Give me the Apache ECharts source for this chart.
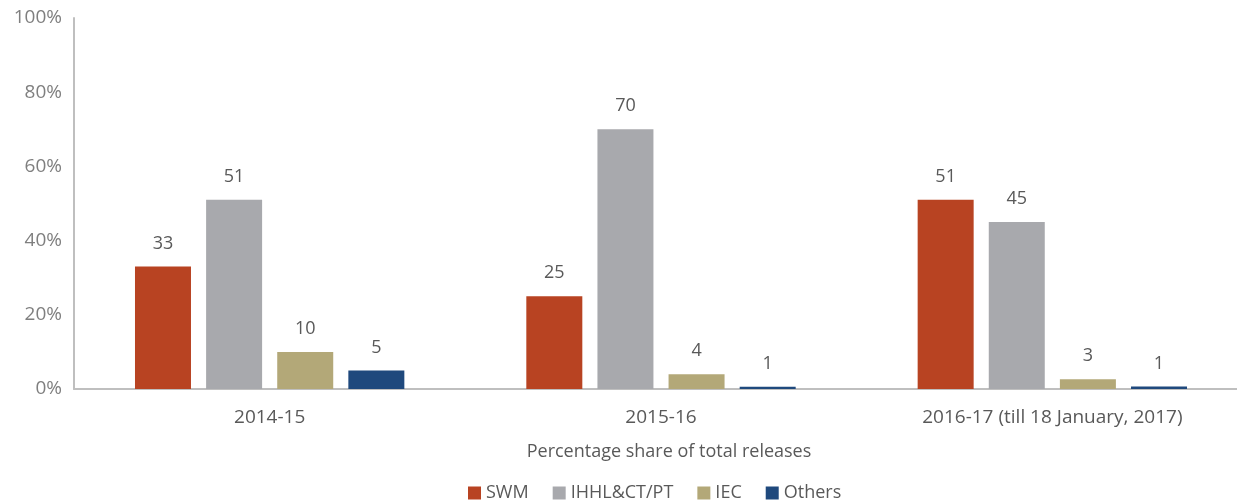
<!DOCTYPE html>
<html>
<head>
<meta charset="utf-8">
<script src="https://cdn.jsdelivr.net/npm/echarts@6/dist/echarts.min.js"></script>
<style>
  html, body { margin: 0; padding: 0; background: #fff; }
  #chart { width: 1237px; height: 501px; }
</style>
</head>
<body>
<div id="chart"></div>
<script>
  var categories = ['2014-15', '2015-16', '2016-17 (till 18 January, 2017)']
  var seriesNames = ['SWM', 'IHHL&CT/PT', 'IEC', 'Others']
  var swm = [33, 25, 51]
  var ihhl = [51, 70, 45]
  var iec = [10, 4, 2.6]
  var others = [5, 0.6, 0.7]
  var colors = ['#b84322', '#a8a9ad', '#b3a878', '#1f497d']

  var chart = echarts.init(document.getElementById('chart'))
  var font = '"Open Sans", sans-serif'

  function bar (name, data, color) {
    return {
      name: name,
      type: 'bar',
      data: data,
      barWidth: 56,
      barGap: '27%',
      itemStyle: { color: color },
      label: {
        show: true,
        position: 'top',
        distance: 14,
        color: '#595959',
        fontFamily: font,
        fontSize: 18,
        formatter: function (p) { return Math.round(p.value) }
      }
    }
  }

  chart.setOption({
    animation: false,
    color: colors,
    // plot runs a little past the right edge, like the original
    grid: { left: 74, width: 1174, top: 18, height: 371, outerBoundsMode: 'none', containLabel: false },
    legend: {
      top: 479,
      left: 463,
      itemWidth: 13,
      itemHeight: 13,
      itemGap: 24,
      icon: 'rect',
      textStyle: { color: '#595959', fontFamily: font, fontSize: 18 },
      data: seriesNames
    },
    xAxis: {
      type: 'category',
      data: categories,
      name: 'Percentage share of total releases',
      nameLocation: 'middle',
      nameGap: 54,
      nameTextStyle: { color: '#595959', fontFamily: font, fontSize: 18, padding: [0, 0, 0, 16] },
      axisLine: { lineStyle: { color: '#bfbfbf', width: 2 } },
      axisTick: { show: false },
      axisLabel: { color: '#595959', fontFamily: font, fontSize: 19, margin: 19 }
    },
    yAxis: {
      type: 'value',
      min: 0,
      max: 100,
      interval: 20,
      splitLine: { show: false },
      axisLine: { show: true, lineStyle: { color: '#bfbfbf', width: 2 } },
      axisTick: { show: false },
      axisLabel: {
        color: '#7f7f7f',
        fontFamily: font,
        fontSize: 19,
        margin: 12,
        padding: [3, 0, 0, 0],
        formatter: '{value}%'
      }
    },
    series: [
      bar(seriesNames[0], swm, colors[0]),
      bar(seriesNames[1], ihhl, colors[1]),
      bar(seriesNames[2], iec, colors[2]),
      bar(seriesNames[3], others, colors[3])
    ]
  })
</script>
</body>
</html>
